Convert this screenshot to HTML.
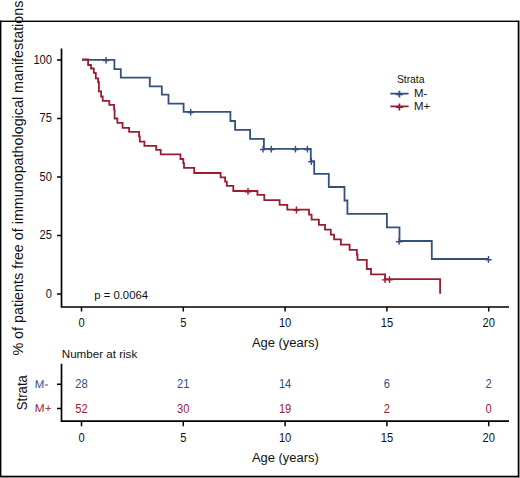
<!DOCTYPE html>
<html><head><meta charset="utf-8"><style>
html,body{margin:0;padding:0;background:#fff;}
svg{display:block;}
text{font-family:"Liberation Sans",sans-serif;}
</style></head><body>
<svg width="520" height="478" viewBox="0 0 520 478">
<rect x="0" y="0" width="520" height="478" fill="#fff"/>
<g fill="#000">
<rect x="0" y="20.6" width="519" height="1.4"/>
<rect x="0" y="20.6" width="1.4" height="456.4"/>
<rect x="517.7" y="20.6" width="1.3" height="456.4"/>
<rect x="0" y="475.7" width="519" height="1.3"/>
</g>
<g fill="#8a8a8a"><rect x="519" y="20.6" width="1" height="457.4"/><rect x="0" y="477" width="520" height="1"/></g>
<g fill="none" stroke="#000" stroke-width="1.7">
<path d="M61.5 48.5V307 M60.7 307H509"/>
<path d="M57 60.0H61.5 M57 118.5H61.5 M57 177.0H61.5 M57 235.5H61.5 M57 294.0H61.5 M81.5 307V311.5 M183.3 307V311.5 M285.1 307V311.5 M386.9 307V311.5 M488.7 307V311.5 " stroke-width="1.5"/>
<path d="M61.5 363.7V421.5 M60.7 421.1H509"/>
<path d="M57 384.3H61.5 M57 408.6H61.5 M81.5 421.5V426.3 M183.3 421.5V426.3 M285.1 421.5V426.3 M386.9 421.5V426.3 M488.7 421.5V426.3 " stroke-width="1.5"/>
</g>
<g font-size="11.9" fill="#111">
<text x="52.0" y="63.5" text-anchor="end" textLength="18.6" lengthAdjust="spacingAndGlyphs">100</text><text x="52.0" y="122.0" text-anchor="end" textLength="12.4" lengthAdjust="spacingAndGlyphs">75</text><text x="52.0" y="180.5" text-anchor="end" textLength="12.4" lengthAdjust="spacingAndGlyphs">50</text><text x="52.0" y="239.0" text-anchor="end" textLength="12.4" lengthAdjust="spacingAndGlyphs">25</text><text x="52.0" y="297.5" text-anchor="end" textLength="6.2" lengthAdjust="spacingAndGlyphs">0</text>
<text x="81.5" y="326.8" text-anchor="middle" textLength="6.2" lengthAdjust="spacingAndGlyphs">0</text><text x="183.3" y="326.8" text-anchor="middle" textLength="6.2" lengthAdjust="spacingAndGlyphs">5</text><text x="285.1" y="326.8" text-anchor="middle" textLength="12.4" lengthAdjust="spacingAndGlyphs">10</text><text x="386.9" y="326.8" text-anchor="middle" textLength="12.4" lengthAdjust="spacingAndGlyphs">15</text><text x="488.7" y="326.8" text-anchor="middle" textLength="12.4" lengthAdjust="spacingAndGlyphs">20</text>
<text x="81.5" y="442.1" text-anchor="middle" textLength="6.2" lengthAdjust="spacingAndGlyphs">0</text><text x="183.3" y="442.1" text-anchor="middle" textLength="6.2" lengthAdjust="spacingAndGlyphs">5</text><text x="285.1" y="442.1" text-anchor="middle" textLength="12.4" lengthAdjust="spacingAndGlyphs">10</text><text x="386.9" y="442.1" text-anchor="middle" textLength="12.4" lengthAdjust="spacingAndGlyphs">15</text><text x="488.7" y="442.1" text-anchor="middle" textLength="12.4" lengthAdjust="spacingAndGlyphs">20</text>
</g>
<g fill="none" stroke-width="1.8" stroke-linejoin="miter" stroke-linecap="butt">
<path d="M82.0 59.9H114.4 V69.1H120.8 V77.6H149.8 V86.4H161.8 V94.6H168.5 V103.6H183.6 V111.8H230.4 V121.0H235.1 V129.9H250.1 V138.9H263.9 V148.8H310.8 V161.1H314.2 V173.9H328.8 V187.0H344.5 V200.5H347.4 V213.9H386.9 V227.4H399.5 V241.0H431.8 V259.0H488.5" stroke="#34507c"/>
<path d="M106.0 56.9V63.7 M102.8 60.6H109.2 M190.7 108.8V115.6 M187.5 112.5H193.9 M263.1 145.8V152.6 M259.9 149.5H266.3 M271.3 145.8V152.6 M268.1 149.5H274.5 M295.5 145.8V152.6 M292.3 149.5H298.7 M307.4 145.8V152.6 M304.2 149.5H310.6 M311.4 158.1V164.9 M308.2 161.8H314.6 M399.1 238.0V244.8 M395.9 241.7H402.3 M488.5 256.0V262.8 M485.3 259.7H491.7 " stroke="#34507c" stroke-width="1.4"/>
<path d="M82.0 59.5H88.1 V65.0H91.0 V68.5H93.8 V72.9H95.8 V78.3H98.1 V82.0H98.9 V91.3H101.1 V96.5H102.7 V100.8H109.3 V104.9H114.1 V109.6H114.6 V118.5H117.4 V122.8H122.6 V127.8H129.1 V131.9H139.1 V136.4H139.8 V141.6H144.4 V145.8H156.2 V149.9H160.7 V154.4H180.5 V159.0H183.3 V163.2H184.0 V167.9H194.2 V173.0H220.6 V177.3H225.1 V181.7H226.8 V185.9H233.3 V191.0H257.4 V194.9H264.3 V200.2H279.6 V204.9H287.3 V209.6H309.0 V214.7H311.6 V219.6H318.9 V224.8H325.0 V229.6H330.8 V234.6H334.1 V239.4H340.9 V244.6H349.6 V249.8H356.9 V254.5H357.5 V259.8H366.8 V269.0H371.0 V274.3H385.1 V279.2H440.1 V293.8" stroke="#9b1c32"/>
<path d="M248.0 188.0V194.8 M244.8 191.7H251.2 M296.4 206.6V213.4 M293.2 210.3H299.6 M385.0 276.2V283.0 M381.8 279.9H388.2 M389.5 276.2V283.0 M386.3 279.9H392.7 " stroke="#9b1c32" stroke-width="1.4"/>
</g>
<!-- legend -->
<text x="396.9" y="83" font-size="11.6" fill="#111" textLength="27.6" lengthAdjust="spacingAndGlyphs">Strata</text>
<path d="M390.3 93.7H408.6 M399.4 90.7V97.4 M395.8 94.4H403.2" stroke="#34507c" stroke-width="1.8" fill="none"/>
<path d="M390.3 106.4H408.6 M399.4 103.6V110.6 M395.8 107.1H403.2" stroke="#9b1c32" stroke-width="1.8" fill="none"/>
<text x="413.9" y="97.4" font-size="11.4" fill="#111">M-</text>
<text x="413.9" y="109.7" font-size="11.4" fill="#111">M+</text>
<text x="94.2" y="299.2" font-size="11.8" fill="#111" textLength="53.9" lengthAdjust="spacingAndGlyphs">p = 0.0064</text>
<text x="251.9" y="346.9" font-size="12.3" fill="#111" textLength="66.9" lengthAdjust="spacingAndGlyphs">Age (years)</text>
<text x="251.9" y="461.7" font-size="12.3" fill="#111" textLength="66.9" lengthAdjust="spacingAndGlyphs">Age (years)</text>
<text x="61.8" y="357.8" font-size="11.6" fill="#111" textLength="75.4" lengthAdjust="spacingAndGlyphs">Number at risk</text>
<text transform="translate(34.6 387.6) skewX(-3)" font-size="11.2" fill="#2f4e82" textLength="13.4" lengthAdjust="spacingAndGlyphs">M-</text>
<text transform="translate(34.6 412) skewX(-3)" font-size="11.2" fill="#9c1b34" textLength="16.8" lengthAdjust="spacingAndGlyphs">M+</text>
<g font-size="11.9" fill="#2f4e82"><text x="81.5" y="387.7" text-anchor="middle" textLength="12.4" lengthAdjust="spacingAndGlyphs">28</text><text x="183.3" y="387.7" text-anchor="middle" textLength="12.4" lengthAdjust="spacingAndGlyphs">21</text><text x="285.1" y="387.7" text-anchor="middle" textLength="12.4" lengthAdjust="spacingAndGlyphs">14</text><text x="386.9" y="387.7" text-anchor="middle" textLength="6.2" lengthAdjust="spacingAndGlyphs">6</text><text x="488.7" y="387.7" text-anchor="middle" textLength="6.2" lengthAdjust="spacingAndGlyphs">2</text></g>
<g font-size="11.9" fill="#9c1b34"><text x="81.5" y="413.0" text-anchor="middle" textLength="12.4" lengthAdjust="spacingAndGlyphs">52</text><text x="183.3" y="413.0" text-anchor="middle" textLength="12.4" lengthAdjust="spacingAndGlyphs">30</text><text x="285.1" y="413.0" text-anchor="middle" textLength="12.4" lengthAdjust="spacingAndGlyphs">19</text><text x="386.9" y="413.0" text-anchor="middle" textLength="6.2" lengthAdjust="spacingAndGlyphs">2</text><text x="488.7" y="413.0" text-anchor="middle" textLength="6.2" lengthAdjust="spacingAndGlyphs">0</text></g>
<text transform="translate(26.6 410.2) rotate(-90)" font-size="14.5" fill="#111" textLength="35.1" lengthAdjust="spacingAndGlyphs">Strata</text>
<text transform="translate(23.2 355.6) rotate(-90)" font-size="14.3" fill="#111" textLength="355" lengthAdjust="spacingAndGlyphs">% of patients free of immunopathological manifestations</text>
</svg>
</body></html>
